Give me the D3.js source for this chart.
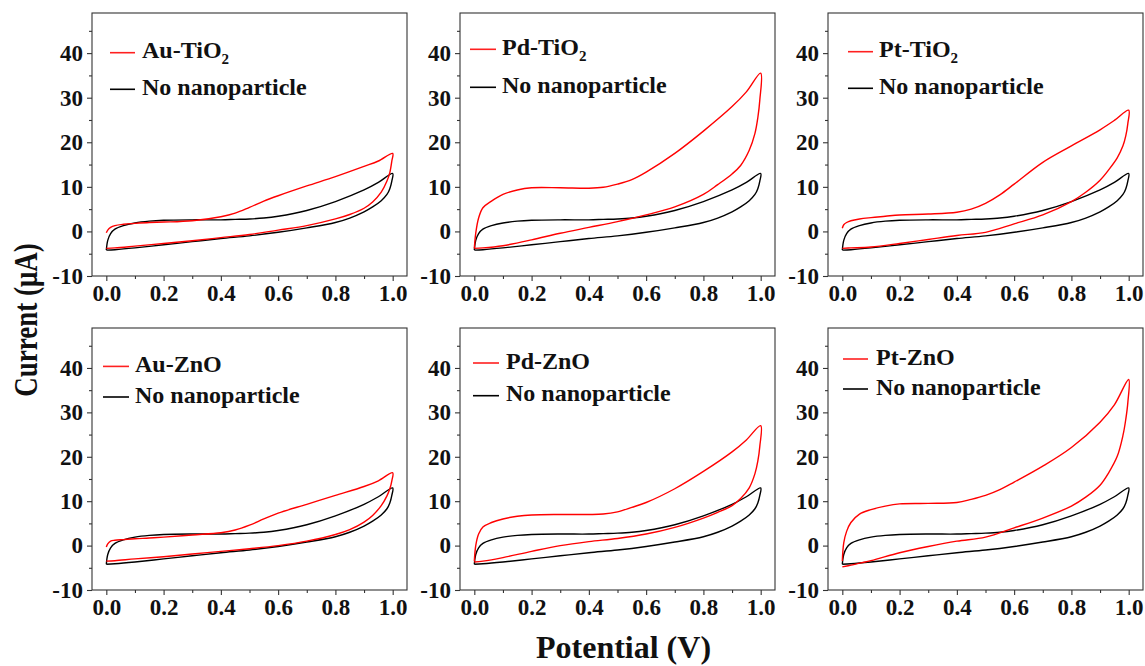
<!DOCTYPE html>
<html><head><meta charset="utf-8">
<script src="https://cdn.jsdelivr.net/npm/d3@7"></script>
<style>body{margin:0;background:#fff}</style>
</head><body><svg id="c" width="1145" height="666"></svg>
<script>
// ---- data ----
const vForward = [0, 0.005, 0.015, 0.03, 0.06, 0.1, 0.15, 0.2, 0.3, 0.4, 0.45, 0.5, 0.55, 0.6, 0.7, 0.8, 0.9, 0.95, 1.0];
const vReverse = [1.0, 0.997, 0.99, 0.98, 0.96, 0.93, 0.9, 0.85, 0.8, 0.7, 0.6, 0.5, 0.4, 0.3, 0.2, 0.1, 0.03, 0];

const noNanoForward = [-4.2, -2.0, -0.5, 0.5, 1.3, 1.9, 2.3, 2.5, 2.6, 2.6, 2.7, 2.8, 3.0, 3.4, 4.7, 6.7, 9.3, 11.0, 13.0];
const noNanoReverse = [13.0, 11.3, 9.6, 8.3, 6.9, 5.5, 4.4, 3.0, 2.0, 0.8, -0.2, -1.0, -1.6, -2.3, -3.0, -3.7, -4.1, -4.2];

const auTiO2Forward = [-0.3, 0.3, 0.9, 1.3, 1.6, 1.8, 2.0, 2.1, 2.4, 3.3, 4.1, 5.4, 6.8, 8.0, 10.2, 12.3, 14.6, 15.8, 17.5];
const auTiO2Reverse = [17.5, 15.8, 13.2, 11.3, 8.8, 6.6, 5.2, 3.8, 2.8, 1.3, 0.3, -0.7, -1.4, -2.1, -2.7, -3.3, -3.7, -3.8];

const pdTiO2Forward = [-3.8, -0.4, 3.0, 5.3, 6.8, 8.3, 9.3, 9.8, 9.8, 9.7, 9.9, 10.6, 11.6, 13.3, 17.5, 22.5, 28.0, 31.3, 35.5];
const pdTiO2Reverse = [35.5, 29.5, 25.5, 22.0, 18.2, 14.8, 12.9, 10.5, 8.3, 5.5, 3.7, 2.2, 0.9, -0.4, -1.9, -3.2, -3.7, -3.8];

const ptTiO2Forward = [0.7, 1.5, 2.0, 2.4, 2.8, 3.1, 3.4, 3.7, 3.9, 4.3, 5.0, 6.3, 8.2, 10.6, 15.5, 19.2, 22.8, 24.9, 27.2];
const ptTiO2Reverse = [27.2, 24.2, 21.5, 19.2, 16.5, 13.8, 11.5, 8.8, 6.7, 3.7, 1.7, -0.2, -0.9, -1.8, -2.7, -3.5, -3.7, -3.8];

const auZnOForward = [-0.3, 0.4, 1.0, 1.2, 1.35, 1.55, 1.7, 1.9, 2.4, 2.9, 3.5, 4.6, 6.0, 7.3, 9.3, 11.3, 13.3, 14.6, 16.4];
const auZnOReverse = [16.4, 14.6, 12.8, 11.2, 9.0, 6.8, 5.3, 3.6, 2.5, 1.0, 0.0, -0.7, -1.3, -1.9, -2.5, -3.0, -3.4, -3.5];

const pdZnOForward = [-3.5, 0.0, 2.6, 4.2, 5.2, 6.0, 6.6, 6.9, 7.0, 7.0, 7.1, 7.6, 8.6, 9.7, 12.8, 16.7, 21.1, 23.8, 27.0];
const pdZnOReverse = [27.0, 22.4, 19.0, 16.2, 13.0, 10.6, 9.0, 7.5, 6.2, 4.1, 2.6, 1.6, 0.9, 0.0, -1.3, -2.7, -3.5, -3.7];

const ptZnOForward = [-3.5, 0.6, 3.2, 5.2, 7.1, 8.1, 8.9, 9.4, 9.5, 9.7, 10.4, 11.3, 12.6, 14.3, 17.9, 22.1, 27.8, 31.7, 37.4];
const ptZnOReverse = [37.4, 32.2, 28.5, 24.8, 20.1, 16.4, 13.6, 10.9, 8.9, 6.2, 4.0, 1.9, 1.0, -0.2, -1.6, -3.4, -4.4, -4.8];

const sampleNames = [["Au-TiO", "2"], ["Pd-TiO", "2"], ["Pt-TiO", "2"], ["Au-ZnO", ""], ["Pd-ZnO", ""], ["Pt-ZnO", ""]];
const referenceName = "No nanoparticle";
const sampleForward = [auTiO2Forward, pdTiO2Forward, ptTiO2Forward, auZnOForward, pdZnOForward, ptZnOForward];
const sampleReverse = [auTiO2Reverse, pdTiO2Reverse, ptTiO2Reverse, auZnOReverse, pdZnOReverse, ptZnOReverse];

const xTicks = [0, 0.2, 0.4, 0.6, 0.8, 1.0];
const xTickLabels = ["0.0", "0.2", "0.4", "0.6", "0.8", "1.0"];
const xMinorTicks = [0.1, 0.3, 0.5, 0.7, 0.9];
const yTicks = [-10, 0, 10, 20, 30, 40];
const yTickLabels = ["-10", "0", "10", "20", "30", "40"];
const yMinorTicks = [-5, 5, 15, 25, 35, 45];
const xDomain = [-0.05, 1.05];
const yDomain = [-10, 49];
const xTitle = "Potential (V)";
const yTitle = "Current (\u03bcA)";

// ---- layout ----
const layout = [
  {left: 92,  top: 13,  w: 315, h: 263, lx0: 18, lx1: 43, tx: 50, ly1: 39.7, ly2: 76.3},
  {left: 460, top: 13,  w: 315, h: 263, lx0: 10, lx1: 36, tx: 42, ly1: 36.3, ly2: 74.3},
  {left: 828, top: 13,  w: 315, h: 263, lx0: 20, lx1: 45, tx: 51, ly1: 38.7, ly2: 75.3},
  {left: 92,  top: 328, w: 315, h: 262, lx0: 11, lx1: 37, tx: 43, ly1: 38.4, ly2: 69},
  {left: 460, top: 328, w: 315, h: 262, lx0: 13, lx1: 39, tx: 46, ly1: 35,   ly2: 67.7},
  {left: 828, top: 328, w: 315, h: 262, lx0: 15, lx1: 40, tx: 48, ly1: 31,   ly2: 61}
];

const svg = d3.select("#c");
const font = "'Liberation Serif','Times New Roman',serif";
const axisColor = "#333";

function loop(F, R) {
  return vForward.map((v, k) => [v, F[k]]).concat(vReverse.slice(1).map((v, k) => [v, R[k + 1]]));
}

layout.forEach((L, i) => {
  const x = d3.scaleLinear().domain(xDomain).range([0, L.w]);
  const y = d3.scaleLinear().domain(yDomain).range([L.h, 0]);
  const g = svg.append("g").attr("transform", `translate(${L.left},${L.top})`);

  const styleAxis = s => {
    s.select(".domain").remove();
    s.selectAll(".tick line").attr("stroke", axisColor).attr("stroke-width", 1.1);
    s.selectAll(".tick text").attr("fill", "#111").style("font-family", font)
      .style("font-weight", "bold").style("font-size", "23px");
  };

  g.append("g").attr("transform", `translate(0,${L.h})`)
    .call(d3.axisBottom(x).tickValues(xMinorTicks).tickSize(3).tickFormat(""))
    .call(styleAxis);
  g.append("g").attr("transform", `translate(0,${L.h})`)
    .call(d3.axisBottom(x).tickValues(xTicks).tickSize(5).tickPadding(4)
      .tickFormat((d, k) => xTickLabels[k]))
    .call(styleAxis);
  g.append("g")
    .call(d3.axisLeft(y).tickValues(yMinorTicks).tickSize(3).tickFormat(""))
    .call(styleAxis);
  g.append("g")
    .call(d3.axisLeft(y).tickValues(yTicks).tickSize(5).tickPadding(4)
      .tickFormat((d, k) => yTickLabels[k]))
    .call(styleAxis);

  g.append("rect").attr("x", 0).attr("y", 0).attr("width", L.w).attr("height", L.h)
    .attr("fill", "none").attr("stroke", axisColor).attr("stroke-width", 1.1);

  const line = d3.line().x(d => x(d[0])).y(d => y(d[1])).curve(d3.curveCatmullRom.alpha(0.5));

  g.append("path").attr("d", line(loop(noNanoForward, noNanoReverse)))
    .attr("fill", "none").attr("stroke", "#000").attr("stroke-width", 1.4);
  g.append("path").attr("d", line(loop(sampleForward[i], sampleReverse[i])))
    .attr("fill", "none").attr("stroke", "#ff0000").attr("stroke-width", 1.4);

  // legend
  const entries = [
    {color: "#ff2020", y: L.ly1, name: sampleNames[i]},
    {color: "#000", y: L.ly2, name: [referenceName, ""]}
  ];
  entries.forEach(e => {
    g.append("line").attr("x1", L.lx0).attr("x2", L.lx1).attr("y1", e.y).attr("y2", e.y)
      .attr("stroke", e.color).attr("stroke-width", 1.6);
    const t = g.append("text").attr("x", L.tx).attr("y", e.y + 5.5)
      .style("font-family", font).style("font-weight", "bold").style("font-size", "24px")
      .attr("fill", "#111").text(e.name[0]);
    if (e.name[1]) {
      t.append("tspan").attr("dy", 6).style("font-size", "15px").text(e.name[1]);
    }
  });
});

svg.append("text").attr("x", 623.5).attr("y", 658).attr("text-anchor", "middle")
  .style("font-family", font).style("font-weight", "bold").style("font-size", "32px")
  .attr("fill", "#111").text(xTitle);

svg.append("text").attr("transform", "translate(37,320) rotate(-90) scale(1,1.25)")
  .attr("text-anchor", "middle")
  .style("font-family", font).style("font-weight", "bold").style("font-size", "27px")
  .attr("fill", "#111").text(yTitle);
</script>
</body></html>
